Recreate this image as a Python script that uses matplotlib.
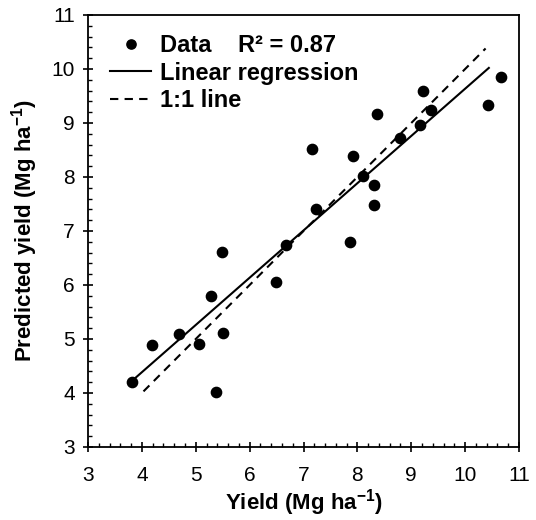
import matplotlib
matplotlib.use("Agg")
import matplotlib.pyplot as plt
from matplotlib.ticker import MultipleLocator
import numpy as np

yield_obs = [3.81, 4.18, 4.69, 5.06, 5.29, 5.38, 5.49, 5.50, 6.49, 6.67,
             7.16, 7.24, 7.87, 7.92, 8.11, 8.31, 8.31, 8.36, 8.79, 9.17,
             9.22, 9.36, 10.42, 10.67]
yield_pred = [4.21, 4.89, 5.09, 4.90, 5.80, 4.01, 6.62, 5.12, 6.06, 6.75,
              8.52, 7.41, 6.80, 8.39, 8.01, 7.86, 7.48, 9.16, 8.72, 8.97,
              9.60, 9.25, 9.33, 9.85]

fit_slope = 0.875
fit_intercept = 0.885
fit_x = [3.87, 10.44]
ident_x = [4.03, 10.38]
r2_text = "0.87"

axis_ticks = [3, 4, 5, 6, 7, 8, 9, 10, 11]

plt.rcParams.update({
    "font.family": ["Liberation Sans", "DejaVu Sans"],
    "mathtext.fontset": "custom",
    "mathtext.rm": "Liberation Sans",
    "mathtext.bf": "Liberation Sans:bold",
    "axes.linewidth": 1.3,
})

fig = plt.figure(figsize=(5.36, 5.2), dpi=100)
ax = fig.add_axes([88 / 536, 1 - 447 / 520, 431 / 536, 432 / 520])

ax.plot(yield_obs, yield_pred, "o", color="black", ms=7.4, label="Data    R\u00b2 = " + r2_text, zorder=3)
fx = np.array(fit_x)
ax.plot(fx, fit_slope * fx + fit_intercept, "-", color="black", lw=1.5, label="Linear regression")
ax.plot(ident_x, ident_x, color="black", lw=1.5, linestyle=(0, (4, 3)), label="1:1 line")

ax.set_xlim(3, 11)
ax.set_ylim(3, 11)
ax.set_xticks(axis_ticks)
ax.set_yticks(axis_ticks)
ax.xaxis.set_minor_locator(MultipleLocator(0.2))
ax.yaxis.set_minor_locator(MultipleLocator(0.2))
ax.tick_params(which="major", direction="inout", length=7, width=1.2, labelsize=15)
ax.tick_params(axis="x", which="major", pad=10)
ax.tick_params(axis="y", which="major", pad=6)
ax.tick_params(which="minor", direction="in", length=3, width=1.0)

ax.set_xlabel(r"Yield (Mg ha$^{\mathbf{-1}}$)", fontsize=16, fontweight="bold", labelpad=2)
ax.set_ylabel(r"Predicted yield (Mg ha$^{\mathbf{-1}}$)", fontsize=16, fontweight="bold", labelpad=8)

ax.legend(loc="upper left", bbox_to_anchor=(22 / 431, 1 - 19 / 432), frameon=False,
          prop={"weight": "bold", "size": 17}, handlelength=1.75, handletextpad=0.35,
          labelspacing=0.2, borderpad=0, borderaxespad=0, markerscale=0.9)

fig.savefig("out.png", dpi=100)
